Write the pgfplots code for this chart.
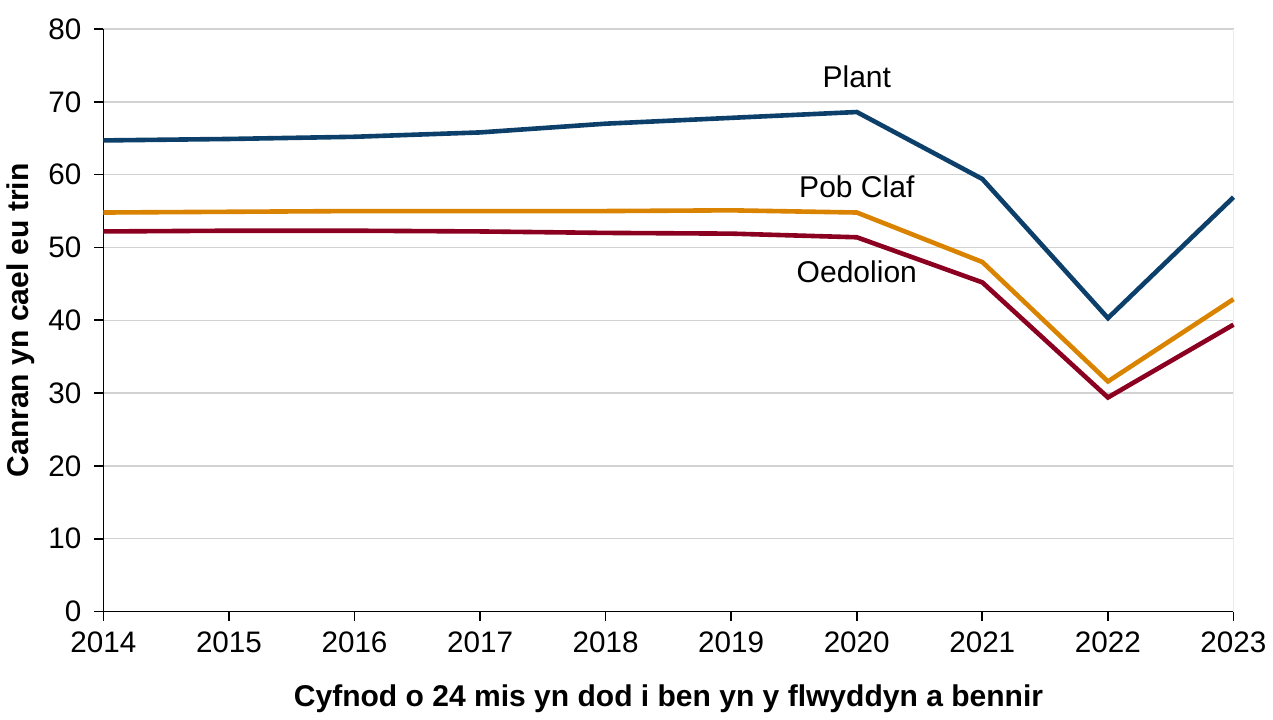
\documentclass[border=0pt]{standalone}
\usepackage{pgfplots}
\pgfplotsset{compat=1.18}
\usepackage{fontspec}
\setmainfont{Liberation Sans}

\definecolor{plantblue}{RGB}{12,64,106}
\definecolor{poborange}{RGB}{217,131,0}
\definecolor{oedred}{RGB}{139,0,32}

\begin{document}
\begin{tikzpicture}
\begin{axis}[
    name=main,
    scale only axis,
    width=564.5pt, height=291pt,
    xmin=2014, xmax=2023,
    ymin=0, ymax=80,
    xtick={2014,...,2023},
    ytick={0,10,...,80},
    /pgf/number format/assume math mode=true,
    xticklabel style={/pgf/number format/1000 sep={}, yshift=-2pt},
    yticklabel style={xshift=-3pt},
    tick label style={font=\fontsize{14.8}{17}\selectfont},
    axis x line*=bottom,
    axis y line*=left,
    axis line style={black, line width=0.8pt},
    tick style={black, line width=0.8pt},
    tick align=outside,
    major tick length=4.5pt,
    ymajorgrids=true,
    grid style={gray!35, line width=0.7pt},
    xlabel={Cyfnod o 24 mis yn dod i ben yn y flwyddyn a bennir},
    ylabel={Canran yn cael eu trin},
    label style={font=\fontsize{15}{17}\selectfont\bfseries},
    xlabel style={yshift=-9pt},
    ylabel style={yshift=0pt},
    clip=false,
]
\draw[gray!15, line width=0.7pt] (axis cs:2023,0) -- (axis cs:2023,80);
\addplot[plantblue, line width=2.3pt] coordinates {
(2014,64.7)(2015,64.9)(2016,65.2)(2017,65.8)(2018,67.0)(2019,67.8)(2020,68.6)(2021,59.4)(2022,40.3)(2023,56.9)};
\addplot[poborange, line width=2.3pt] coordinates {
(2014,54.8)(2015,54.9)(2016,55.0)(2017,55.0)(2018,55.0)(2019,55.1)(2020,54.8)(2021,48.0)(2022,31.6)(2023,42.9)};
\addplot[oedred, line width=2.3pt] coordinates {
(2014,52.2)(2015,52.3)(2016,52.3)(2017,52.2)(2018,52.0)(2019,51.9)(2020,51.4)(2021,45.2)(2022,29.4)(2023,39.4)};
\node[font=\fontsize{15}{17}\selectfont] at (axis cs:2020,73.4) {Plant};
\node[font=\fontsize{15}{17}\selectfont] at (axis cs:2020,58.3) {Pob Claf};
\node[font=\fontsize{15}{17}\selectfont] at (axis cs:2020,46.6) {Oedolion};
\end{axis}
\path (main.north west) ++(0,14.5pt) coordinate (top);
\path (top) -- (main.north west);
\end{tikzpicture}
\end{document}
